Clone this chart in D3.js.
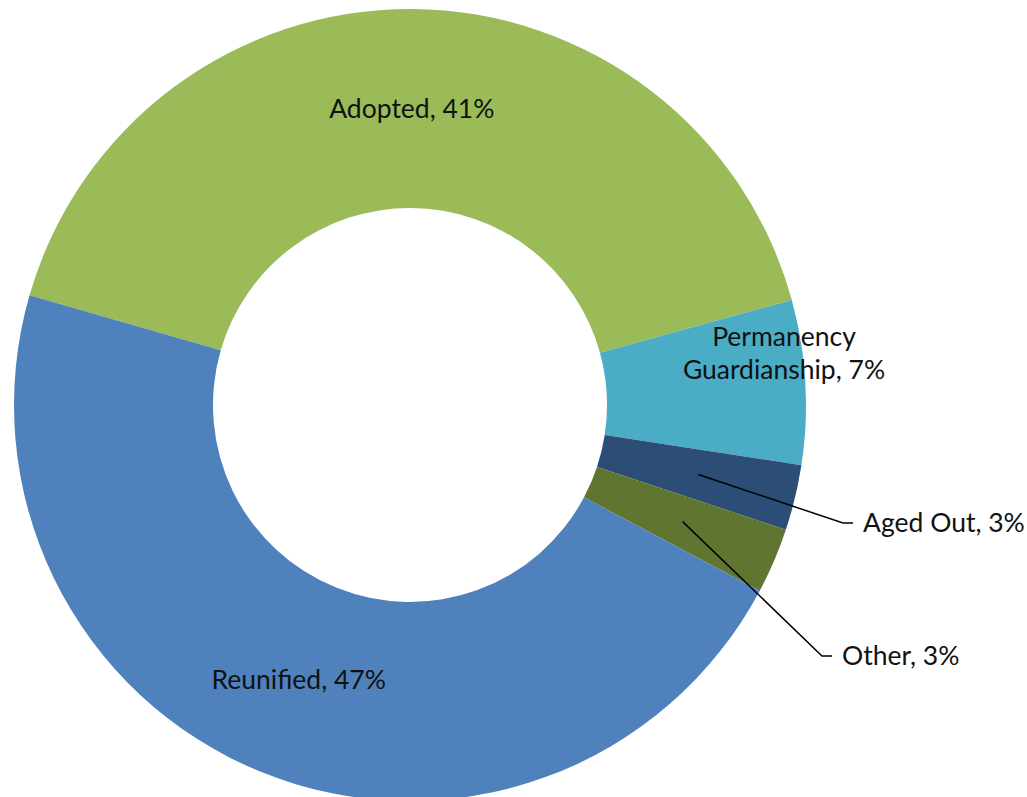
<!DOCTYPE html>
<html>
<head>
<meta charset="utf-8">
<script src="https://cdn.jsdelivr.net/npm/d3@7"></script>
<style>
  html, body { margin: 0; padding: 0; background: #fff; }
  svg { display: block; }
  text { font-family: Lato, "Open Sans", sans-serif; fill: #111; }
</style>
</head>
<body>
<svg id="chart" width="1027" height="797"></svg>
<script>
// Exit outcomes, share of children (percent)
const categories = ['Adopted', 'Permanency Guardianship', 'Aged Out', 'Other', 'Reunified'];
const values = [41.25, 6.7, 2.67, 2.67, 46.7];
const colors = ['#9BBB59', '#4BACC6', '#2C4D75', '#5F7530', '#4F81BD'];
const labelLines = [['Adopted'], ['Permanency', 'Guardianship'], ['Aged Out'], ['Other'], ['Reunified']];

const width = 1027;
const height = 797;
const cx = 410;
const cy = 405;
const outerR = 396;
const innerR = 197;
const startDeg = -73.9; // Adopted starts just above 9 o'clock
const fontSize = 26.5;

// labels that don't sit on the slice centroid
const placement = {
  'Permanency Guardianship': { x: 784, y: 346, anchor: 'middle' },
  'Aged Out': { x: 863, y: 523, anchor: 'start', leader: true },
  'Other': { x: 842, y: 656, anchor: 'start', leader: true },
};

const svg = d3.select('#chart');
const g = svg.append('g').attr('transform', `translate(${cx},${cy})`);

const data = categories.map((c, i) => ({ name: c, value: values[i], color: colors[i], lines: labelLines[i] }));
const total = d3.sum(values);
const pct = d3.format('.0%');

const pie = d3.pie()
  .value((d) => d.value)
  .sort(null)
  .startAngle((startDeg * Math.PI) / 180)
  .endAngle((startDeg * Math.PI) / 180 + 2 * Math.PI);

const arc = d3.arc().innerRadius(innerR).outerRadius(outerR);
const arcs = pie(data);

g.selectAll('path.slice')
  .data(arcs)
  .join('path')
  .attr('class', 'slice')
  .attr('d', arc)
  .style('fill', (d) => d.data.color);

const labels = svg.append('g');

arcs.forEach((d) => {
  const name = d.data.name;
  const lines = d.data.lines.slice();
  lines[lines.length - 1] += `, ${pct(d.data.value / total)}`;
  const p = placement[name];
  const c = arc.centroid(d);

  if (p && p.leader) {
    // leader from slice centre to the label, with a short horizontal tail
    labels.append('polyline')
      .attr('points', [
        [cx + c[0], cy + c[1]],
        [p.x - 20, p.y],
        [p.x - 10, p.y],
      ].map((pt) => pt.join(',')).join(' '))
      .style('fill', 'none')
      .style('stroke', '#000')
      .style('stroke-width', 1.5);
  }

  const x = p ? p.x : cx + c[0];
  const y = p ? p.y : cy + c[1];
  const lineH = 33;
  const y0 = p && !p.leader ? y : y - ((lines.length - 1) * lineH) / 2;

  const text = labels.append('text')
    .attr('text-anchor', p ? p.anchor : 'middle')
    .style('font-size', `${fontSize}px`);

  lines.forEach((ln, i) => {
    text.append('tspan')
      .attr('x', x)
      .attr('y', y0 + i * lineH)
      .attr('dy', p && !p.leader ? 0 : '0.35em')
      .text(ln);
  });
});
</script>
</body>
</html>
